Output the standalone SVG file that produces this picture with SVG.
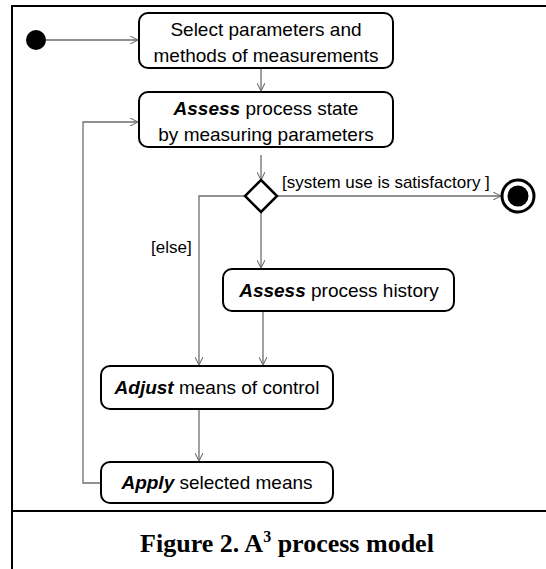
<svg xmlns="http://www.w3.org/2000/svg" width="546" height="569" viewBox="0 0 546 569">
<defs>
<style>
.frame{fill:none;stroke:#000;stroke-width:2}
.box{fill:#fff;stroke:#000;stroke-width:2}
.t{font-family:"Liberation Sans",Arial,sans-serif;font-size:19px;fill:#000;text-anchor:middle}
.g{font-family:"Liberation Sans",Arial,sans-serif;font-size:17px;fill:#000}
.b{font-weight:bold;font-style:italic}
.c{fill:none;stroke:#6e6e6e;stroke-width:1.3}
.cap{font-family:"Liberation Serif","Times New Roman",serif;font-size:26px;font-weight:bold;fill:#000;text-anchor:middle}
</style>
<marker id="arr" viewBox="0 0 10 10" refX="10" refY="5" markerWidth="8" markerHeight="8" markerUnits="userSpaceOnUse" orient="auto">
<path d="M0,0 L10,5 L0,10" fill="none" stroke="#6e6e6e" stroke-width="1.3"/>
</marker>
</defs>
<rect width="546" height="569" fill="#fff"/>
<g id="frame">
<path class="frame" d="M12,580 V6 H560"/>
<path class="frame" d="M12,511 H560"/>
</g>
<g id="connectors">
<path class="c" d="M46,40 H138" marker-end="url(#arr)"/>
<path class="c" d="M261,68 V91" marker-end="url(#arr)"/>
<path class="c" d="M101,483 H83 V122 H138" marker-end="url(#arr)"/>
<path class="c" d="M261,155 V180" marker-end="url(#arr)"/>
<path class="c" d="M277,196 H501" marker-end="url(#arr)"/>
<path class="c" d="M245,196 H199 V365" marker-end="url(#arr)"/>
<path class="c" d="M261,212 V268" marker-end="url(#arr)"/>
<path class="c" d="M263,311 V365" marker-end="url(#arr)"/>
<path class="c" d="M199,409 V461" marker-end="url(#arr)"/>
</g>
<g id="start"><circle cx="36" cy="40" r="10" fill="#000"/></g>
<g id="select">
<rect class="box" x="139" y="13" width="254" height="55" rx="9"/>
<text class="t" x="266" y="36">Select parameters and</text>
<text class="t" x="266" y="62">methods of measurements</text>
</g>
<g id="assess-state">
<rect class="box" x="139" y="92" width="254" height="55" rx="9"/>
<text class="t" x="266" y="115"><tspan class="b">Assess</tspan> process state</text>
<text class="t" x="266" y="141">by measuring parameters</text>
</g>
<g id="decision">
<polygon points="261,180 277,196 261,212 245,196" fill="#fff" stroke="#000" stroke-width="2.5"/>
<text class="g" x="282" y="188">[system use is satisfactory ]</text>
<text class="g" x="151" y="253">[else]</text>
</g>
<g id="end">
<circle cx="518" cy="196" r="16" fill="#fff" stroke="#000" stroke-width="3"/>
<circle cx="518" cy="196" r="10.5" fill="#000"/>
</g>
<g id="assess-history">
<rect class="box" x="223" y="269" width="231" height="42" rx="9"/>
<text class="t" x="339" y="297"><tspan class="b">Assess</tspan> process history</text>
</g>
<g id="adjust">
<rect class="box" x="101" y="366" width="232" height="43" rx="9"/>
<text class="t" x="217" y="394"><tspan class="b">Adjust</tspan> means of control</text>
</g>
<g id="apply">
<rect class="box" x="101" y="462" width="232" height="41" rx="9"/>
<text class="t" x="217" y="489"><tspan class="b">Apply</tspan> selected means</text>
</g>
<g id="caption">
<text class="cap" x="287" y="552">Figure 2. A<tspan font-size="16" dy="-10">3</tspan><tspan dy="10"> process model</tspan></text>
</g>
</svg>
